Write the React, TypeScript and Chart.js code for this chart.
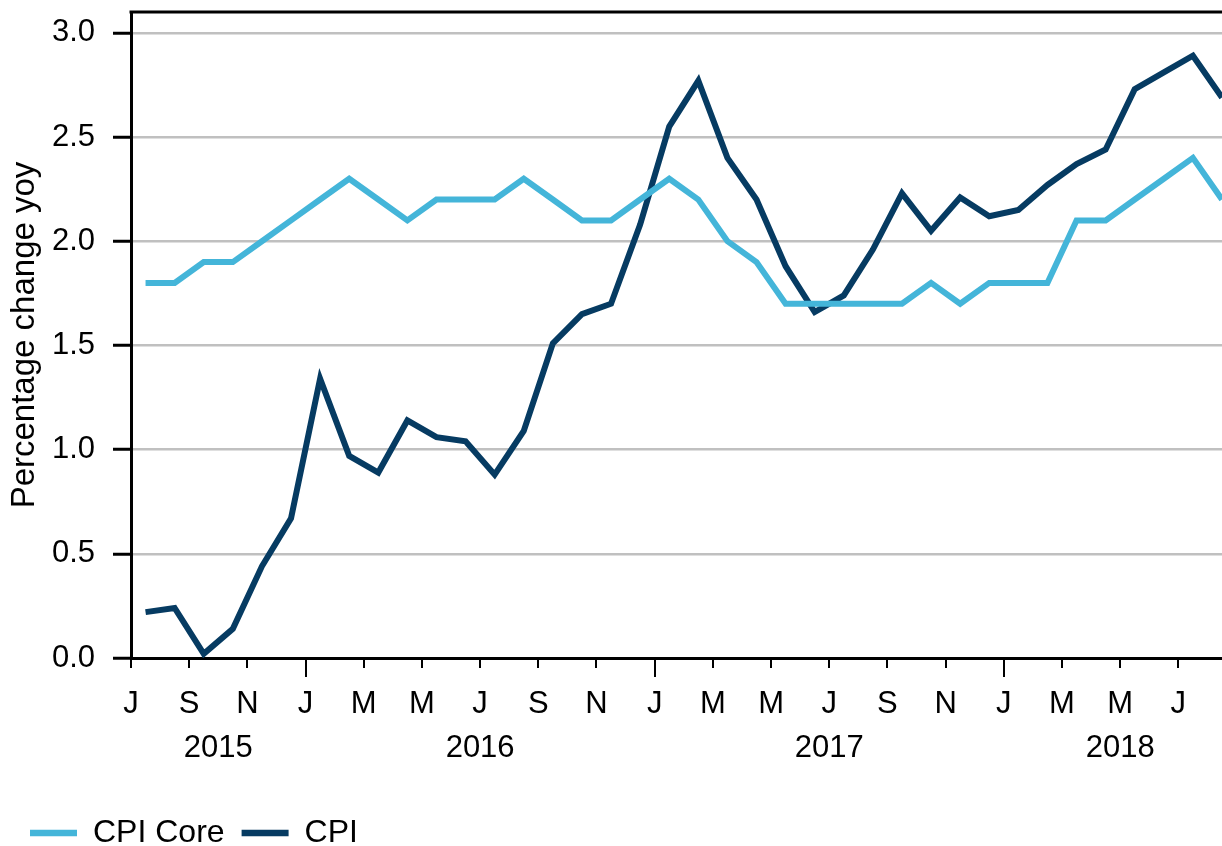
import React, { useEffect, useRef } from "react";
import { Chart, registerables } from "chart.js";

Chart.register(...registerables);

// Monthly observations, Jul 2015 – Aug 2018
const months = [
  "Jul 2015", "Aug 2015", "Sep 2015", "Oct 2015", "Nov 2015", "Dec 2015",
  "Jan 2016", "Feb 2016", "Mar 2016", "Apr 2016", "May 2016", "Jun 2016",
  "Jul 2016", "Aug 2016", "Sep 2016", "Oct 2016", "Nov 2016", "Dec 2016",
  "Jan 2017", "Feb 2017", "Mar 2017", "Apr 2017", "May 2017", "Jun 2017",
  "Jul 2017", "Aug 2017", "Sep 2017", "Oct 2017", "Nov 2017", "Dec 2017",
  "Jan 2018", "Feb 2018", "Mar 2018", "Apr 2018", "May 2018", "Jun 2018",
  "Jul 2018", "Aug 2018",
];

const cpiCore = [
  1.8, 1.8, 1.9, 1.9, 2.0, 2.1,
  2.2, 2.3, 2.2, 2.1, 2.2, 2.2,
  2.2, 2.3, 2.2, 2.1, 2.1, 2.2,
  2.3, 2.2, 2.0, 1.9, 1.7, 1.7,
  1.7, 1.7, 1.7, 1.8, 1.7, 1.8,
  1.8, 1.8, 2.1, 2.1, 2.2, 2.3,
  2.4, 2.2,
];

const cpi = [
  0.22, 0.24, 0.02, 0.14, 0.44, 0.67,
  1.34, 0.97, 0.89, 1.14, 1.06, 1.04,
  0.88, 1.09, 1.51, 1.65, 1.70, 2.08,
  2.55, 2.77, 2.40, 2.20, 1.88, 1.66,
  1.74, 1.96, 2.23, 2.05, 2.21, 2.12,
  2.15, 2.27, 2.37, 2.44, 2.73, 2.81,
  2.89, 2.69,
];

// x tick letters, every second month starting Jul 2015
const monthTickLetters = [
  "J", "S", "N", "J", "M", "M", "J", "S", "N", "J",
  "M", "M", "J", "S", "N", "J", "M", "M", "J",
];
const yearLabels = ["2015", "2016", "2017", "2018"];
const yTicks = [0, 0.5, 1.0, 1.5, 2.0, 2.5, 3.0];

const seriesLabels = ["CPI Core", "CPI"];
const FONT = '"Liberation Sans", Arial, Helvetica, sans-serif';

export default function App() {
  const canvasRef = useRef<HTMLCanvasElement | null>(null);

  useEffect(() => {
    document.body.style.margin = "0";
    const canvas = canvasRef.current;
    if (!canvas) return;

    Chart.defaults.font.family = FONT;
    Chart.defaults.color = "#000";

    const nMonths = months.length; // axis spans months [0, nMonths]
    // year label positions: centre of each year's visible span (in months from Jul 2015)
    const startMonthOfYear = 6; // Jul = index 6 within 2015
    const yearCenters = yearLabels.map((_, i) => {
      const s = Math.max(i * 12 - startMonthOfYear, 0);
      const e = Math.min((i + 1) * 12 - startMonthOfYear, nMonths);
      return (s + e) / 2;
    });
    const monthTickValues = monthTickLetters.map((_, i) => i * 2);
    const xTickValues = Array.from(new Set([...monthTickValues, ...yearCenters])).sort((a, b) => a - b);

    const toPoints = (arr: number[]) => arr.map((v, i) => ({ x: i + 0.5, y: v }));

    const decor = {
      id: "decor",
      afterDraw(chart: any) {
        const { ctx, chartArea, scales } = chart;
        const { left, right, top, bottom } = chartArea;
        const xs = scales.x;
        ctx.save();
        ctx.strokeStyle = "#000";
        ctx.lineWidth = 3;
        ctx.beginPath();
        ctx.moveTo(left - 1.5, top);
        ctx.lineTo(right, top);
        ctx.stroke();
        ctx.lineWidth = 2;
        monthTickValues.forEach((m) => {
          const px = Math.round(xs.getPixelForValue(m));
          const isJan = (m + startMonthOfYear) % 12 === 0;
          ctx.beginPath();
          ctx.moveTo(px, bottom);
          ctx.lineTo(px, bottom + (isJan ? 19 : 10));
          ctx.stroke();
        });
        ctx.restore();
      },
    };

    const chart = new Chart(canvas, {
      type: "line",
      data: {
        datasets: [
          {
            label: seriesLabels[0],
            data: toPoints(cpiCore),
            borderColor: "#44b5d9",
            backgroundColor: "#44b5d9",
            borderWidth: 6,
            pointRadius: 0,
            tension: 0,
          },
          {
            label: seriesLabels[1],
            data: toPoints(cpi),
            borderColor: "#063b62",
            backgroundColor: "#063b62",
            borderWidth: 6,
            pointRadius: 0,
            tension: 0,
          },
        ],
      },
      options: {
        responsive: false,
        animation: false,
        devicePixelRatio: 1,
        layout: { padding: { left: 13, top: 12, right: 0, bottom: 0 } },
        scales: {
          x: {
            type: "linear",
            min: 0,
            max: nMonths - 0.5,
            afterBuildTicks: (scale: any) => {
              scale.ticks = xTickValues.map((v) => ({ value: v }));
            },
            afterFit: (scale: any) => {
              scale.height = 142;
              scale.paddingLeft = 0;
              scale.paddingRight = 0;
            },
            ticks: {
              autoSkip: false,
              maxRotation: 0,
              minRotation: 0,
              padding: 24,
              color: "#000",
              font: { size: 31, lineHeight: "44px" },
              callback: (value: any) => {
                const v = Number(value);
                const mi = monthTickValues.indexOf(v);
                const yi = yearCenters.indexOf(v);
                return [mi >= 0 ? monthTickLetters[mi] : "", yi >= 0 ? yearLabels[yi] : ""];
              },
            },
            grid: { display: true, drawOnChartArea: false, drawTicks: false },
            border: { display: true, color: "#000", width: 3 },
          },
          y: {
            type: "linear",
            min: 0,
            max: 3.1,
            afterBuildTicks: (scale: any) => {
              scale.ticks = yTicks.map((v) => ({ value: v }));
            },
            afterFit: (scale: any) => {
              scale.width = 118;
              scale.paddingTop = 0;
              scale.paddingBottom = 0;
            },
            ticks: {
              padding: 18,
              color: "#000",
              font: { size: 31, lineHeight: 1 },
              callback: (value: any) => Number(value).toFixed(1),
            },
            grid: {
              color: "#c0c0c0",
              lineWidth: 2.5,
              drawTicks: true,
              tickLength: 18,
              tickWidth: 3,
              tickColor: "#000",
            },
            border: { display: true, color: "#000", width: 3 },
            title: {
              display: true,
              text: "Percentage change yoy",
              color: "#000",
              font: { size: 33, lineHeight: 1 },
              padding: { top: -4.5, bottom: 0 },
            },
          },
        },
        plugins: {
          tooltip: { enabled: false },
          legend: {
            display: true,
            position: "bottom",
            align: "start",
            maxHeight: 46,
            labels: {
              boxWidth: 47,
              boxHeight: 6.5,
              padding: 17,
              color: "#000",
              font: { size: 32 },
              generateLabels: (ch: any) =>
                ch.data.datasets.map((ds: any, i: number) => ({
                  text: ds.label,
                  fillStyle: ds.borderColor,
                  strokeStyle: ds.borderColor,
                  lineWidth: 0,
                  hidden: false,
                  datasetIndex: i,
                  fontColor: "#000",
                })),
            },
          },
        },
      },
      plugins: [decor],
    } as any);

    return () => chart.destroy();
  }, []);

  return (
    <div style={{ width: 1222, height: 846 }}>
      <canvas ref={canvasRef} width={1222} height={846} style={{ display: "block" }} />
    </div>
  );
}
